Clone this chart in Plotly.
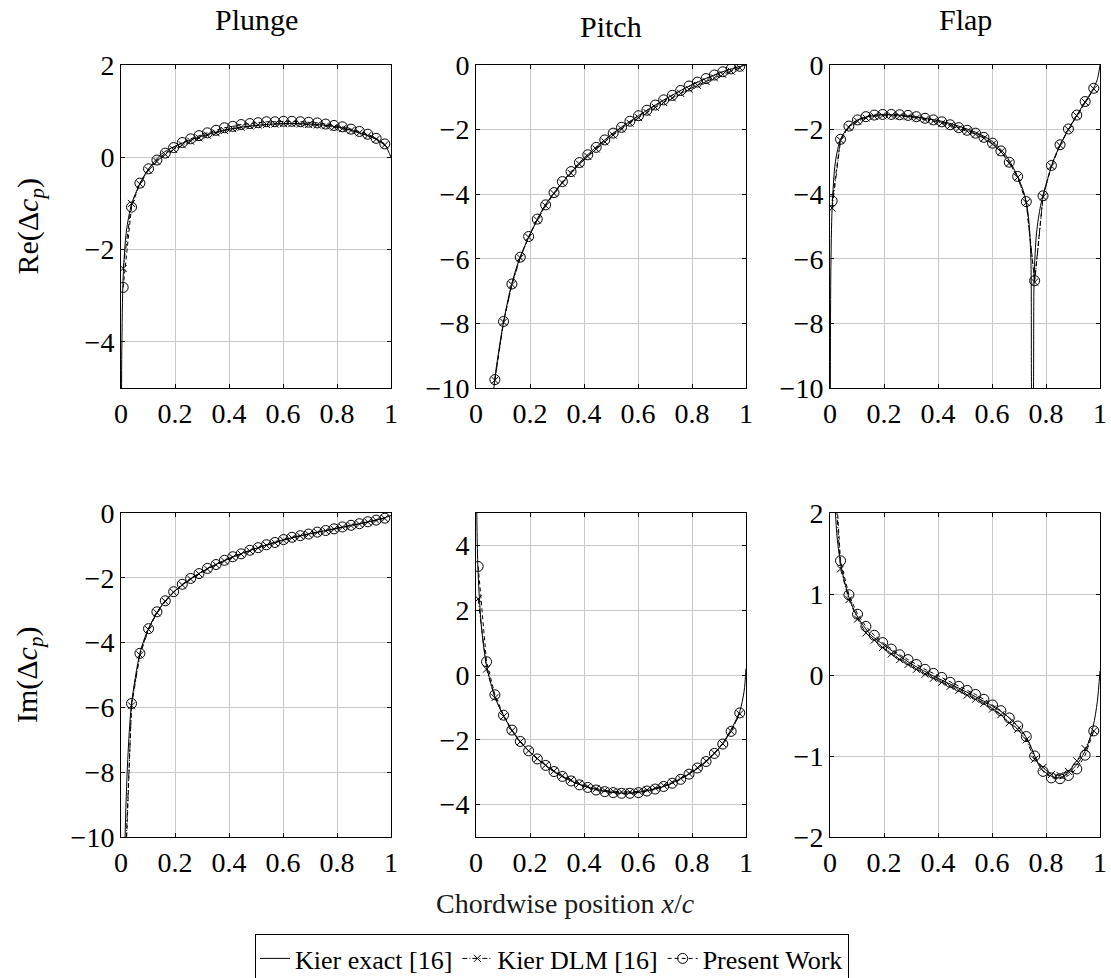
import plotly.graph_objects as go

# ---------------- data ----------------
# panel collocation points (chordwise position x/c)
xs = [0.008, 0.039, 0.070, 0.102, 0.133, 0.164, 0.195, 0.227, 0.258, 0.289,
      0.320, 0.352, 0.383, 0.414, 0.445, 0.477, 0.508, 0.539, 0.570, 0.602,
      0.633, 0.664, 0.695, 0.727, 0.758, 0.789, 0.820, 0.852, 0.883, 0.914,
      0.945, 0.977]

# Plunge, real part
plunge_re_exact_x = [0.001, 0.003, 0.008, 0.02, 0.039, 0.07, 0.1, 0.15, 0.2, 0.3,
                     0.4, 0.5, 0.6, 0.7, 0.8, 0.9, 0.95, 0.98, 1.0]
plunge_re_exact_y = [-7.0, -4.2, -2.6, -1.6, -1.02, -0.57, -0.27, 0.07, 0.24, 0.46,
                     0.61, 0.69, 0.73, 0.72, 0.66, 0.50, 0.38, 0.24, 0.0]
plunge_re_dlm = [-2.41, -1.00, -0.58, -0.28, -0.09, 0.06, 0.17, 0.27, 0.35, 0.42,
                 0.48, 0.53, 0.58, 0.62, 0.65, 0.68, 0.70, 0.71, 0.72, 0.73,
                 0.73, 0.72, 0.71, 0.70, 0.68, 0.65, 0.62, 0.58, 0.53, 0.47,
                 0.39, 0.27]
plunge_re_pw = [-2.82, -1.08, -0.56, -0.25, -0.06, 0.09, 0.21, 0.32, 0.40, 0.47,
                0.53, 0.585, 0.64, 0.67, 0.71, 0.73, 0.75, 0.77, 0.77, 0.78,
                0.78, 0.77, 0.76, 0.745, 0.72, 0.69, 0.66, 0.61, 0.56, 0.50,
                0.41, 0.29]

# Pitch, real part
pitch_re_exact_x = [0.055, 0.07, 0.1, 0.13, 0.16, 0.2, 0.25, 0.3, 0.4, 0.5,
                    0.6, 0.7, 0.8, 0.9, 0.95, 1.0]
pitch_re_exact_y = [-11.2, -9.7, -8.05, -6.85, -6.02, -5.25, -4.42, -3.84, -2.89, -2.16,
                    -1.58, -1.06, -0.61, -0.25, -0.11, 0.0]
pitch_re_dlm = [None, None, -9.76, -7.96, -6.80, -5.97, -5.33, -4.80, -4.36, -3.98,
                -3.65, -3.35, -3.07, -2.83, -2.60, -2.38, -2.17, -1.98, -1.80, -1.63,
                -1.47, -1.31, -1.16, -1.02, -0.88, -0.75, -0.63, -0.51, -0.40, -0.29,
                -0.19, -0.09]
pitch_re_pw = [None, None, -9.74, -7.94, -6.78, -5.95, -5.31, -4.77, -4.33, -3.95,
               -3.61, -3.30, -3.02, -2.78, -2.55, -2.32, -2.11, -1.93, -1.74, -1.57,
               -1.40, -1.24, -1.08, -0.94, -0.79, -0.65, -0.53, -0.42, -0.31, -0.21,
               -0.12, -0.04]

# Flap, real part
flap_re_exact_x = [0.001, 0.003, 0.008, 0.02, 0.039, 0.07, 0.1, 0.15, 0.2, 0.25,
                   0.3, 0.35, 0.4, 0.45, 0.5, 0.55, 0.6, 0.65, 0.68, 0.7,
                   0.72, 0.735, 0.744, 0.7495, 0.7505, 0.756, 0.765, 0.78, 0.8, 0.83,
                   0.86, 0.9, 0.94, 0.97, 0.99, 1.0]
flap_re_exact_y = [-12.0, -6.5, -4.4, -3.0, -2.3, -1.9, -1.71, -1.58, -1.54, -1.55,
                   -1.59, -1.65, -1.72, -1.82, -1.96, -2.12, -2.36, -2.78, -3.2, -3.55,
                   -4.0, -4.7, -6.0, -11.0, -11.0, -6.6, -5.2, -4.35, -3.7, -2.9,
                   -2.35, -1.75, -1.2, -0.82, -0.45, 0.0]
flap_re_dlm = [-4.43, -2.33, -1.93, -1.74, -1.64, -1.59, -1.57, -1.57, -1.58, -1.60,
               -1.64, -1.69, -1.74, -1.80, -1.88, -1.97, -2.05, -2.14, -2.27, -2.45,
               -2.69, -3.04, -3.48, -4.26, -6.72, -4.08, -3.13, -2.49, -2.00, -1.57,
               -1.15, -0.74]
flap_re_pw = [-4.21, -2.30, -1.89, -1.70, -1.60, -1.55, -1.53, -1.53, -1.54, -1.56,
              -1.60, -1.65, -1.70, -1.76, -1.85, -1.94, -2.02, -2.11, -2.24, -2.42,
              -2.66, -3.01, -3.45, -4.23, -6.68, -4.05, -3.11, -2.47, -1.98, -1.55,
              -1.13, -0.72]

# Plunge, imaginary part
plunge_im_exact_x = [0.008, 0.015, 0.025, 0.039, 0.07, 0.1, 0.15, 0.2, 0.3, 0.4,
                     0.5, 0.6, 0.7, 0.8, 0.9, 0.95, 1.0]
plunge_im_exact_y = [-13.5, -10.0, -7.6, -5.9, -4.33, -3.6, -2.86, -2.40, -1.81, -1.40,
                     -1.09, -0.83, -0.64, -0.47, -0.30, -0.21, -0.08]
plunge_im_dlm = [-12.5, -5.95, -4.38, -3.60, -3.08, -2.73, -2.45, -2.22, -2.04, -1.88,
                 -1.73, -1.60, -1.48, -1.37, -1.27, -1.17, -1.08, -1.00, -0.92, -0.84,
                 -0.77, -0.71, -0.66, -0.60, -0.55, -0.50, -0.44, -0.39, -0.34, -0.28,
                 -0.23, -0.17]
plunge_im_pw = [-13.0, -5.88, -4.33, -3.57, -3.05, -2.71, -2.43, -2.20, -2.02, -1.87,
                -1.71, -1.59, -1.46, -1.35, -1.26, -1.15, -1.07, -0.98, -0.91, -0.82,
                -0.75, -0.70, -0.65, -0.59, -0.54, -0.49, -0.43, -0.38, -0.33, -0.27,
                -0.22, -0.16]

# Pitch, imaginary part
pitch_im_exact_x = [0.001, 0.004, 0.008, 0.02, 0.039, 0.07, 0.1, 0.15, 0.2, 0.3,
                    0.4, 0.5, 0.55, 0.6, 0.7, 0.8, 0.85, 0.9, 0.95, 0.977,
                    0.993, 1.0]
pitch_im_exact_y = [7.0, 4.4, 3.1, 1.5, 0.3, -0.68, -1.22, -1.92, -2.38, -3.05,
                    -3.43, -3.62, -3.65, -3.62, -3.43, -3.00, -2.70, -2.27, -1.60, -1.12,
                    -0.5, 0.2]
pitch_im_dlm = [2.35, 0.18, -0.70, -1.28, -1.72, -2.06, -2.34, -2.58, -2.78, -2.96,
                -3.11, -3.24, -3.35, -3.44, -3.51, -3.56, -3.59, -3.61, -3.61, -3.59,
                -3.55, -3.49, -3.41, -3.31, -3.19, -3.04, -2.86, -2.65, -2.41, -2.12,
                -1.74, -1.20]
pitch_im_pw = [3.35, 0.41, -0.61, -1.24, -1.70, -2.05, -2.34, -2.59, -2.79, -2.98,
               -3.13, -3.27, -3.39, -3.47, -3.55, -3.60, -3.63, -3.65, -3.65, -3.63,
               -3.58, -3.52, -3.44, -3.34, -3.22, -3.06, -2.87, -2.67, -2.42, -2.13,
               -1.74, -1.17]

# Flap, imaginary part
flap_im_exact_x = [0.015, 0.025, 0.039, 0.07, 0.1, 0.15, 0.2, 0.3, 0.4, 0.5,
                   0.6, 0.65, 0.7, 0.73, 0.75, 0.78, 0.82, 0.85, 0.88, 0.92,
                   0.95, 0.975, 0.99, 1.0]
flap_im_exact_y = [2.4, 1.75, 1.38, 0.96, 0.73, 0.50, 0.37, 0.14, -0.04, -0.20,
                   -0.38, -0.49, -0.65, -0.79, -0.93, -1.15, -1.25, -1.27, -1.22, -1.08,
                   -0.90, -0.63, -0.33, 0.05]
flap_im_dlm = [2.9, 1.31, 0.93, 0.69, 0.52, 0.43, 0.34, 0.26, 0.19, 0.13,
               0.07, 0.01, -0.04, -0.09, -0.14, -0.19, -0.25, -0.30, -0.35, -0.42,
               -0.49, -0.59, -0.67, -0.80, -1.04, -1.14, -1.23, -1.24, -1.19, -1.06,
               -0.91, -0.69]
flap_im_pw = [3.1, 1.41, 0.99, 0.75, 0.60, 0.49, 0.40, 0.32, 0.25, 0.19,
              0.13, 0.07, 0.02, -0.03, -0.09, -0.14, -0.19, -0.24, -0.30, -0.37,
              -0.44, -0.53, -0.63, -0.76, -1.00, -1.19, -1.27, -1.28, -1.24, -1.16,
              -0.99, -0.69]

x_tickvals = [0, 0.2, 0.4, 0.6, 0.8, 1.0]
x_ticktext = ["0", "0.2", "0.4", "0.6", "0.8", "1"]
column_titles = ["Plunge", "Pitch", "Flap"]
row_titles = ["Re(Δ<i>c</i><sub><i>p</i></sub>)", "Im(Δ<i>c</i><sub><i>p</i></sub>)"]
legend_names = ["Kier exact [16]", "Kier DLM [16]", "Present Work"]
x_label = "Chordwise position <i>x</i>/<i>c</i>"

panels = [
    (plunge_re_exact_x, plunge_re_exact_y, plunge_re_dlm, plunge_re_pw, [-5, 2], [-4, -2, 0, 2]),
    (pitch_re_exact_x, pitch_re_exact_y, pitch_re_dlm, pitch_re_pw, [-10, 0], [-10, -8, -6, -4, -2, 0]),
    (flap_re_exact_x, flap_re_exact_y, flap_re_dlm, flap_re_pw, [-10, 0], [-10, -8, -6, -4, -2, 0]),
    (plunge_im_exact_x, plunge_im_exact_y, plunge_im_dlm, plunge_im_pw, [-10, 0], [-10, -8, -6, -4, -2, 0]),
    (pitch_im_exact_x, pitch_im_exact_y, pitch_im_dlm, pitch_im_pw, [-5, 5], [-4, -2, 0, 2, 4]),
    (flap_im_exact_x, flap_im_exact_y, flap_im_dlm, flap_im_pw, [-2, 2], [-2, -1, 0, 1, 2]),
]

# ---------------- layout geometry ----------------
W, H = 1111, 978
cols_px = [(121, 391), (476, 746), (830, 1100)]
rows_px = [(65, 388), (513, 837)]
FONT = "Liberation Serif"

fig = go.Figure()
layout_axes = {}
for k, (ex_x, ex_y, dlm, pw, yr, yt) in enumerate(panels):
    r, c = divmod(k, 3)
    n = k + 1
    xa = "x" if n == 1 else f"x{n}"
    ya = "y" if n == 1 else f"y{n}"
    first = (k == 0)
    fig.add_trace(go.Scatter(
        x=ex_x, y=ex_y, xaxis=xa, yaxis=ya, mode="lines",
        line=dict(color="black", width=1, shape="spline", smoothing=0.8),
        name=legend_names[0], legendgroup="exact", showlegend=first))
    fig.add_trace(go.Scatter(
        x=xs, y=dlm, xaxis=xa, yaxis=ya, mode="lines+markers",
        line=dict(color="black", width=1, dash="5px,2px,1px,2px"),
        marker=dict(symbol="x-thin-open", size=7, color="black",
                    line=dict(color="black", width=1)),
        name=legend_names[1], legendgroup="dlm", showlegend=first))
    fig.add_trace(go.Scatter(
        x=xs, y=pw, xaxis=xa, yaxis=ya, mode="lines+markers",
        line=dict(color="black", width=1, dash="4px,3px"),
        marker=dict(symbol="circle-open", size=10, color="black",
                    line=dict(color="black", width=1)),
        name=legend_names[2], legendgroup="pw", showlegend=first))

    c0, c1 = cols_px[c]
    r0, r1 = rows_px[r]
    common = dict(showgrid=True, gridcolor="#c8c8c8", gridwidth=1,
                  showline=True, linecolor="black", linewidth=1, mirror="ticks",
                  ticks="inside", ticklen=4, tickcolor="black", zeroline=False,
                  automargin=False,
                  tickfont=dict(family=FONT, size=28, color="black"))
    layout_axes["xaxis" if n == 1 else f"xaxis{n}"] = dict(
        domain=[c0 / W, c1 / W], range=[0, 1], anchor=ya,
        tickvals=x_tickvals, ticktext=x_ticktext, **common)
    layout_axes["yaxis" if n == 1 else f"yaxis{n}"] = dict(
        domain=[1 - r1 / H, 1 - r0 / H], range=yr, anchor=xa,
        tickvals=yt, **common)

annotations = []
title_y = [20, 27, 20]
for c, t in enumerate(column_titles):
    c0, c1 = cols_px[c]
    annotations.append(dict(text=t, x=(c0 + c1) / 2 / W, y=1 - title_y[c] / H,
                            xref="paper", yref="paper", showarrow=False,
                            xanchor="center", yanchor="middle",
                            font=dict(family=FONT, size=30, color="black")))
for r, t in enumerate(row_titles):
    r0, r1 = rows_px[r]
    annotations.append(dict(text=t, x=29 / W, y=1 - (r0 + r1) / 2 / H,
                            xref="paper", yref="paper", showarrow=False,
                            xanchor="center", yanchor="middle", textangle=-90,
                            font=dict(family=FONT, size=30, color="black")))
annotations.append(dict(text=x_label, x=565 / W, y=1 - 903 / H,
                        xref="paper", yref="paper", showarrow=False,
                        xanchor="center", yanchor="middle",
                        font=dict(family=FONT, size=28, color="#1a1a1a")))

fig.update_layout(
    template="none",
    width=W, height=H, margin=dict(l=0, r=0, t=0, b=0, autoexpand=False),
    paper_bgcolor="white", plot_bgcolor="white",
    showlegend=True,
    legend=dict(orientation="h", x=255 / W, y=1 - 934 / H,
                xanchor="left", yanchor="top",
                bordercolor="black", borderwidth=1, bgcolor="white",
                font=dict(family=FONT, size=26, color="black"),
                itemwidth=30, tracegroupgap=0),
    annotations=annotations,
    **layout_axes)

fig.write_html("out.html",
               config={"displayModeBar": False},
               post_script="document.body.style.margin='0';document.body.style.overflow='hidden';")
